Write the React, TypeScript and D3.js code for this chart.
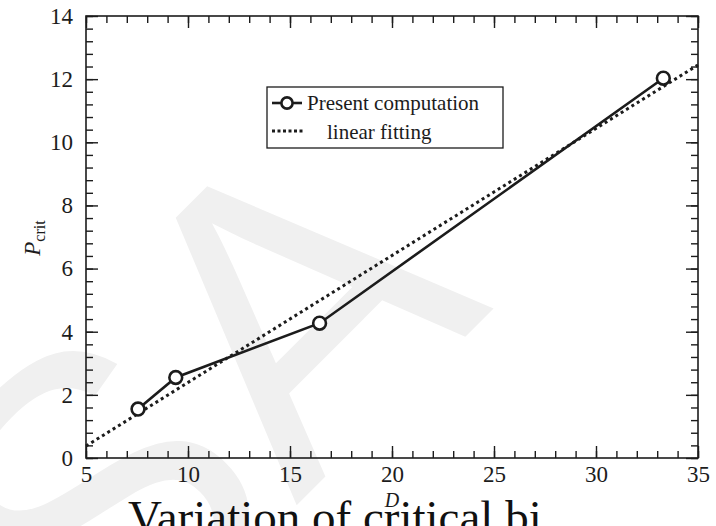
import React, { useEffect, useRef } from 'react'
import * as d3 from 'd3'

// values
const dValues = [7.55, 9.4, 16.45, 33.3]
const pCrit = [1.55, 2.55, 4.27, 12.03]
const fitD = [5, 35]
const fitP = [0.38, 12.45]
const xTicks = [5, 10, 15, 20, 25, 30, 35]
const yTicks = [0, 2, 4, 6, 8, 10, 12, 14]
const legendLabels = ['Present computation', 'linear fitting']

const W = 716
const H = 526
const left = 86
const right = 698
const top = 16
const bottom = 458
const serif = 'Liberation Serif, DejaVu Serif, serif'
const ink = '#1c1c1c'

const styleAxis = (g) => {
  g.attr('font-family', null).style('font-family', serif)
  g.select('.domain').remove()
  g.selectAll('line').attr('stroke', ink).attr('stroke-width', 1.4)
  g.selectAll('text')
    .attr('fill', ink)
    .style('font-family', serif)
    .style('font-size', '23px')
}

const drawChart = (node) => {
  const svg = d3.select(node)
  svg.selectAll('*').remove()

  const x = d3.scaleLinear().domain([5, 35]).range([left, right])
  const y = d3.scaleLinear().domain([0, 14]).range([bottom, top])

  // faint watermark behind the plot
  svg
    .append('text')
    .attr('transform', 'translate(98,704) rotate(-45)')
    .style('font-family', 'Liberation Sans, Arial, sans-serif')
    .style('font-size', '420px')
    .attr('fill', '#f0f0f0')
    .text('SA')

  const minorX = d3.range(5, 35.001, 1)
  const minorY = d3.range(0, 14.001, 0.4)

  // minor ticks on all four sides, pointing inward
  svg.append('g').attr('transform', `translate(0,${bottom})`)
    .call(d3.axisBottom(x).tickValues(minorX).tickSize(-7).tickFormat(() => '')).call(styleAxis)
  svg.append('g').attr('transform', `translate(0,${top})`)
    .call(d3.axisTop(x).tickValues(minorX).tickSize(-7).tickFormat(() => '')).call(styleAxis)
  svg.append('g').attr('transform', `translate(${left},0)`)
    .call(d3.axisLeft(y).tickValues(minorY).tickSize(-7).tickFormat(() => '')).call(styleAxis)
  svg.append('g').attr('transform', `translate(${right},0)`)
    .call(d3.axisRight(y).tickValues(minorY).tickSize(-7).tickFormat(() => '')).call(styleAxis)

  // major ticks + labels
  svg.append('g').attr('transform', `translate(0,${bottom})`)
    .call(d3.axisBottom(x).tickValues(xTicks).tickSize(-12).tickPadding(8).tickFormat(d3.format('d'))).call(styleAxis)
  svg.append('g').attr('transform', `translate(0,${top})`)
    .call(d3.axisTop(x).tickValues(xTicks).tickSize(-12).tickFormat(() => '')).call(styleAxis)
  svg.append('g').attr('transform', `translate(${left},0)`)
    .call(d3.axisLeft(y).tickValues(yTicks).tickSize(-12).tickPadding(13).tickFormat(d3.format('d'))).call(styleAxis)
  svg.append('g').attr('transform', `translate(${right},0)`)
    .call(d3.axisRight(y).tickValues(yTicks).tickSize(-12).tickFormat(() => '')).call(styleAxis)

  // frame
  svg
    .append('rect')
    .attr('x', left)
    .attr('y', top)
    .attr('width', right - left)
    .attr('height', bottom - top)
    .attr('fill', 'none')
    .attr('stroke', ink)
    .attr('stroke-width', 1.6)

  // linear fit (dotted)
  const fitLine = d3.line().x((d) => x(d[0])).y((d) => y(d[1]))
  svg
    .append('path')
    .attr('d', fitLine(d3.zip(fitD, fitP)))
    .attr('fill', 'none')
    .attr('stroke', ink)
    .attr('stroke-width', 3)
    .attr('stroke-dasharray', '3 3.3')

  // computed points
  const pts = d3.zip(dValues, pCrit)
  svg
    .append('path')
    .attr('d', fitLine(pts))
    .attr('fill', 'none')
    .attr('stroke', ink)
    .attr('stroke-width', 2.6)
  svg
    .append('g')
    .selectAll('circle')
    .data(pts)
    .enter()
    .append('circle')
    .attr('cx', (d) => x(d[0]))
    .attr('cy', (d) => y(d[1]))
    .attr('r', 6.4)
    .attr('fill', '#fff')
    .attr('stroke', ink)
    .attr('stroke-width', 2.6)

  // legend
  const lg = svg.append('g')
  lg.append('rect')
    .attr('x', 267).attr('y', 87).attr('width', 236).attr('height', 61)
    .attr('fill', '#fff').attr('stroke', ink).attr('stroke-width', 1.3)
  lg.append('line')
    .attr('x1', 272).attr('x2', 302).attr('y1', 103).attr('y2', 103)
    .attr('stroke', ink).attr('stroke-width', 2.6)
  lg.append('circle')
    .attr('cx', 287).attr('cy', 103).attr('r', 5.6)
    .attr('fill', '#fff').attr('stroke', ink).attr('stroke-width', 2.6)
  lg.append('line')
    .attr('x1', 272).attr('x2', 304).attr('y1', 131).attr('y2', 131)
    .attr('stroke', ink).attr('stroke-width', 3).attr('stroke-dasharray', '3 2.5')
  lg.selectAll('text')
    .data(legendLabels)
    .enter()
    .append('text')
    .attr('x', (d, i) => (i === 0 ? 307 : 327))
    .attr('y', (d, i) => (i === 0 ? 110 : 139))
    .style('font-family', serif)
    .style('font-size', '21px')
    .attr('fill', ink)
    .text((d) => d)

  // axis titles
  const yl = svg
    .append('text')
    .attr('transform', 'translate(40,238) rotate(-90)')
    .attr('text-anchor', 'middle')
    .style('font-family', serif)
    .attr('fill', ink)
  yl.append('tspan').style('font-style', 'italic').style('font-size', '23px').text('P')
  yl.append('tspan').style('font-size', '16px').attr('dy', 5).text('crit')

  svg
    .append('text')
    .attr('x', x(20))
    .attr('y', 507)
    .attr('text-anchor', 'middle')
    .style('font-family', serif)
    .style('font-style', 'italic')
    .style('font-size', '20px')
    .attr('fill', ink)
    .text('D')

  // caption, cut by the bottom edge
  svg
    .append('text')
    .attr('x', 128)
    .attr('y', 533)
    .style('font-family', serif)
    .style('font-size', '47px')
    .attr('fill', '#111')
    .text('Variation of critical bi')
}

const App = () => {
  const ref = useRef(null)

  useEffect(() => {
    drawChart(ref.current)
  }, [])

  return (
    <svg
      ref={ref}
      width={W}
      height={H}
      style={{ position: 'absolute', left: 0, top: 0, background: '#fff' }}
    />
  )
}

export default App
